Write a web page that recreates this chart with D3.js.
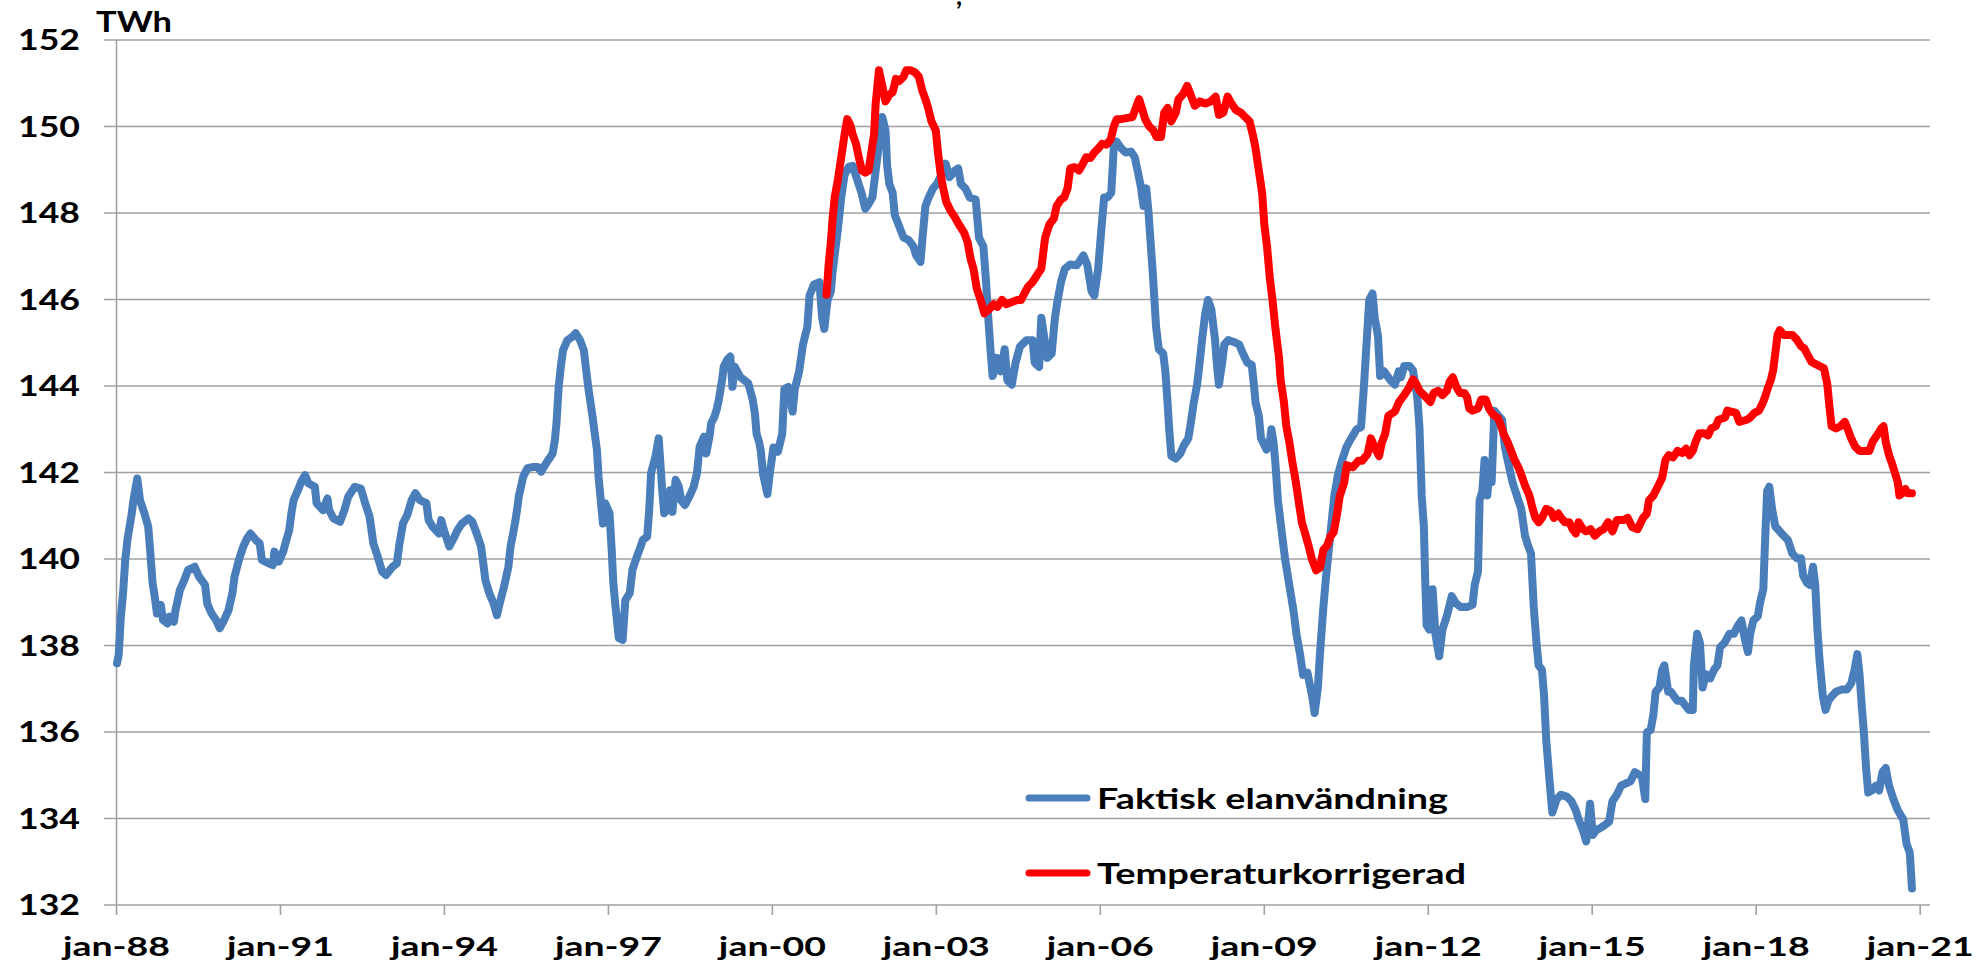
<!DOCTYPE html>
<html>
<head>
<meta charset="utf-8">
<script src="https://cdn.jsdelivr.net/npm/d3@7/dist/d3.min.js"></script>
<style>
	body { margin: 0; background: #fff; }
	svg { display: block; }
	text { font-family: Lato, "Open Sans", sans-serif; font-weight: 700; fill: #000; }
</style>
</head>
<body>
<script>

var yearTicks = [1988, 1991, 1994, 1997, 2000, 2003, 2006, 2009, 2012, 2015, 2018, 2021];
var tickLabels = ["jan-88", "jan-91", "jan-94", "jan-97", "jan-00", "jan-03", "jan-06", "jan-09", "jan-12", "jan-15", "jan-18", "jan-21"];
var valueTicks = [132, 134, 136, 138, 140, 142, 144, 146, 148, 150, 152];
var unitLabel = "TWh";
var seriesNames = ["Faktisk elanvändning", "Temperaturkorrigerad"];

// faktisk elanvändning, rullande 12 mån
var blueYears = [
	1988.01, 1988.04, 1988.08, 1988.12, 1988.16, 1988.20, 1988.24, 1988.28, 1988.31, 1988.38, 1988.43, 1988.51, 1988.58, 1988.62, 1988.66, 1988.70, 1988.74, 1988.81, 1988.85, 1988.93, 1988.97,
	1989.05, 1989.08, 1989.16, 1989.24, 1989.31, 1989.43, 1989.51, 1989.62, 1989.66, 1989.74, 1989.82, 1989.89, 1989.97,
	1990.05, 1990.12, 1990.16, 1990.24, 1990.32, 1990.39, 1990.45, 1990.55, 1990.62, 1990.66, 1990.78, 1990.86, 1990.89, 1990.97,
	1991.05, 1991.09, 1991.16, 1991.20, 1991.24, 1991.32, 1991.38, 1991.45, 1991.51, 1991.63, 1991.66, 1991.78, 1991.86, 1991.89, 1991.97,
	1992.09, 1992.17, 1992.24, 1992.36, 1992.47, 1992.55, 1992.63, 1992.70, 1992.78, 1992.86, 1992.93,
	1993.05, 1993.13, 1993.17, 1993.24, 1993.32, 1993.40, 1993.47, 1993.55, 1993.67, 1993.71, 1993.78, 1993.90, 1993.94,
	1994.01, 1994.09, 1994.17, 1994.24, 1994.32, 1994.44, 1994.51, 1994.59, 1994.67, 1994.71, 1994.75, 1994.82, 1994.90, 1994.96,
	1995.01, 1995.09, 1995.17, 1995.21, 1995.28, 1995.32, 1995.36, 1995.44, 1995.52, 1995.63, 1995.71, 1995.77, 1995.82, 1995.90, 1995.98,
	1996.02, 1996.05, 1996.09, 1996.13, 1996.17, 1996.25, 1996.34, 1996.40, 1996.48, 1996.55, 1996.63, 1996.71, 1996.79, 1996.82, 1996.86, 1996.90, 1996.94,
	1997.02, 1997.06, 1997.09, 1997.13, 1997.19, 1997.26, 1997.31, 1997.39, 1997.44, 1997.52, 1997.59, 1997.63, 1997.71, 1997.75, 1997.78, 1997.86, 1997.92, 1997.98,
	1998.02, 1998.10, 1998.13, 1998.17, 1998.23, 1998.29, 1998.33, 1998.40, 1998.48, 1998.56, 1998.62, 1998.67, 1998.75, 1998.79, 1998.85, 1998.88, 1998.94, 1998.98,
	1999.02, 1999.08, 1999.11, 1999.17, 1999.23, 1999.27, 1999.31, 1999.41, 1999.56, 1999.64, 1999.68, 1999.71, 1999.76, 1999.79, 1999.83, 1999.91, 1999.95,
	2000.02, 2000.10, 2000.18, 2000.22, 2000.29, 2000.37, 2000.41, 2000.49, 2000.56, 2000.64, 2000.68, 2000.76, 2000.86, 2000.91, 2000.95,
	2001.01, 2001.07, 2001.10, 2001.14, 2001.20, 2001.26, 2001.32, 2001.40, 2001.47, 2001.55, 2001.63, 2001.70, 2001.76, 2001.83, 2001.89, 2001.95,
	2002.01, 2002.07, 2002.10, 2002.14, 2002.20, 2002.24, 2002.32, 2002.40, 2002.49, 2002.58, 2002.63, 2002.71, 2002.74, 2002.80, 2002.86, 2002.94,
	2003.01, 2003.09, 2003.17, 2003.24, 2003.34, 2003.40, 2003.45, 2003.53, 2003.61, 2003.72, 2003.78, 2003.86, 2003.91, 2003.95, 2003.99,
	2004.03, 2004.11, 2004.18, 2004.25, 2004.30, 2004.38, 2004.45, 2004.53, 2004.65, 2004.76, 2004.80, 2004.88, 2004.92, 2004.97,
	2005.03, 2005.11, 2005.17, 2005.22, 2005.28, 2005.35, 2005.45, 2005.57, 2005.69, 2005.76, 2005.84, 2005.89, 2005.96,
	2006.02, 2006.07, 2006.13, 2006.20, 2006.25, 2006.30, 2006.38, 2006.46, 2006.56, 2006.63, 2006.69, 2006.74, 2006.79, 2006.84, 2006.88, 2006.92, 2006.96, 2006.99,
	2007.02, 2007.07, 2007.15, 2007.19, 2007.23, 2007.26, 2007.30, 2007.38, 2007.46, 2007.53, 2007.61, 2007.65, 2007.71, 2007.77, 2007.80, 2007.87, 2007.92, 2007.97,
	2008.03, 2008.10, 2008.13, 2008.17, 2008.23, 2008.27, 2008.34, 2008.46, 2008.54, 2008.61, 2008.69, 2008.77, 2008.81, 2008.84, 2008.90, 2008.94,
	2009.04, 2009.10, 2009.13, 2009.17, 2009.20, 2009.25, 2009.31, 2009.38, 2009.46, 2009.54, 2009.59, 2009.65, 2009.71, 2009.79, 2009.88, 2009.92, 2009.98,
	2010.02, 2010.08, 2010.13, 2010.18, 2010.23, 2010.28, 2010.35, 2010.42, 2010.50, 2010.59, 2010.69, 2010.77, 2010.82, 2010.89, 2010.92, 2010.98,
	2011.02, 2011.08, 2011.12, 2011.19, 2011.31, 2011.39, 2011.46, 2011.50, 2011.56, 2011.66, 2011.72, 2011.76, 2011.80, 2011.84, 2011.88, 2011.92, 2011.94, 2011.97,
	2012.02, 2012.08, 2012.13, 2012.20, 2012.26, 2012.34, 2012.43, 2012.50, 2012.59, 2012.71, 2012.81, 2012.85, 2012.91, 2012.94, 2012.99,
	2013.03, 2013.08, 2013.13, 2013.16, 2013.21, 2013.27, 2013.35, 2013.40, 2013.47, 2013.54, 2013.62, 2013.70, 2013.77, 2013.82, 2013.88, 2013.93, 2013.98,
	2014.02, 2014.08, 2014.12, 2014.16, 2014.22, 2014.27, 2014.35, 2014.43, 2014.54, 2014.62, 2014.70, 2014.75, 2014.83, 2014.89, 2014.96,
	2015.01, 2015.07, 2015.15, 2015.21, 2015.31, 2015.37, 2015.45, 2015.53, 2015.61, 2015.70, 2015.78, 2015.85, 2015.91, 2015.97,
	2016.00, 2016.07, 2016.12, 2016.16, 2016.23, 2016.28, 2016.32, 2016.39, 2016.44, 2016.50, 2016.56, 2016.64, 2016.70, 2016.77, 2016.84, 2016.86, 2016.92, 2016.97,
	2017.02, 2017.08, 2017.16, 2017.23, 2017.29, 2017.34, 2017.42, 2017.51, 2017.59, 2017.67, 2017.73, 2017.79, 2017.85, 2017.89, 2017.95,
	2018.03, 2018.07, 2018.13, 2018.16, 2018.20, 2018.24, 2018.29, 2018.35, 2018.43, 2018.50, 2018.58, 2018.66, 2018.74, 2018.82, 2018.86, 2018.93, 2018.98,
	2019.04, 2019.08, 2019.12, 2019.16, 2019.22, 2019.27, 2019.32, 2019.38, 2019.46, 2019.56, 2019.66, 2019.74, 2019.80, 2019.85, 2019.89, 2019.93, 2019.97,
	2020.01, 2020.05, 2020.12, 2020.19, 2020.25, 2020.31, 2020.37, 2020.43, 2020.51, 2020.59, 2020.69, 2020.75, 2020.81, 2020.85
];
var blueValues = [
	137.59, 137.78, 138.67, 139.21, 139.98, 140.44, 140.75, 141.06, 141.36, 141.86, 141.36, 141.06, 140.75, 140.13, 139.44, 139.13, 138.74, 138.94, 138.59, 138.51, 138.67,
	138.55, 138.82, 139.28, 139.51, 139.75, 139.82, 139.59, 139.40, 138.97, 138.74, 138.59, 138.40, 138.59,
	138.82, 139.21, 139.59, 139.98, 140.29, 140.48, 140.59, 140.44, 140.36, 139.98, 139.90, 139.86, 140.17, 139.94,
	140.17, 140.36, 140.67, 141.06, 141.36, 141.59, 141.79, 141.94, 141.75, 141.67, 141.29, 141.13, 141.40, 141.13, 140.94,
	140.86, 141.13, 141.44, 141.67, 141.63, 141.29, 140.98, 140.36, 140.05, 139.71, 139.63,
	139.82, 139.90, 140.29, 140.82, 141.02, 141.36, 141.52, 141.36, 141.29, 140.90, 140.75, 140.59, 140.90,
	140.59, 140.29, 140.48, 140.67, 140.82, 140.94, 140.86, 140.59, 140.29, 139.90, 139.51, 139.21, 138.97, 138.70,
	138.97, 139.36, 139.82, 140.29, 140.75, 141.06, 141.44, 141.90, 142.10, 142.13, 142.13, 142.02, 142.13, 142.29, 142.44,
	142.75, 143.14, 143.98, 144.45, 144.83, 145.06, 145.14, 145.22, 145.06, 144.83, 143.98, 143.29, 142.52, 141.90, 141.36, 140.82, 141.29,
	141.06, 140.21, 139.44, 138.90, 138.17, 138.13, 139.05, 139.21, 139.75, 140.05, 140.29, 140.44, 140.52, 141.21, 141.98, 142.37, 142.79, 141.67,
	141.06, 141.21, 141.59, 141.09, 141.83, 141.67, 141.36, 141.25, 141.44, 141.67, 141.98, 142.60, 142.83, 142.44, 142.83, 143.14, 143.29, 143.45,
	143.68, 144.14, 144.45, 144.60, 144.68, 143.98, 144.45, 144.21, 144.06, 143.68, 143.37, 142.90, 142.69, 142.48, 141.96, 141.50, 141.96,
	142.58, 142.48, 142.89, 143.93, 143.98, 143.41, 143.93, 144.34, 144.96, 145.37, 146.09, 146.35, 146.40, 145.58, 145.32,
	145.99, 146.19, 146.61, 147.02, 147.64, 148.36, 148.88, 149.07, 149.09, 148.78, 148.47, 148.10, 148.21, 148.36, 148.98, 149.60,
	150.22, 149.91, 149.09, 148.67, 148.47, 147.95, 147.69, 147.43, 147.38, 147.23, 147.02, 146.87, 147.33, 148.16, 148.36, 148.57,
	148.67, 148.88, 149.14, 148.83, 148.98, 149.03, 148.67, 148.57, 148.36, 148.31, 147.43, 147.23, 146.40, 145.58, 144.85,
	144.23, 144.65, 144.34, 144.85, 144.13, 144.03, 144.54, 144.91, 145.06, 145.06, 144.54, 144.44, 145.58, 145.16,
	144.65, 144.75, 145.58, 145.99, 146.40, 146.71, 146.81, 146.79, 147.02, 146.81, 146.19, 146.09, 146.71,
	147.64, 148.36, 148.36, 148.47, 149.60, 149.65, 149.50, 149.40, 149.42, 149.29, 148.93, 148.62, 148.16, 148.57, 148.05, 147.33, 146.61, 145.99,
	145.37, 144.85, 144.75, 144.34, 143.62, 143.00, 142.38, 142.32, 142.43, 142.63, 142.79, 143.10, 143.62, 144.03, 144.34, 145.16, 145.68, 145.99,
	145.78, 145.06, 144.54, 144.03, 144.54, 144.96, 145.06, 145.01, 144.96, 144.75, 144.54, 144.49, 144.03, 143.62, 143.31, 142.79,
	142.53, 142.69, 143.00, 142.69, 142.27, 141.34, 140.72, 140.00, 139.38, 138.76, 138.25, 137.83, 137.32, 137.37, 136.80, 136.44, 137.01,
	137.83, 138.87, 139.59, 140.21, 140.83, 141.45, 141.96, 142.27, 142.58, 142.79, 143.00, 143.05, 143.93, 145.37, 145.99, 146.14,
	145.58, 145.16, 144.23, 144.34, 144.13, 144.03, 144.34, 144.20, 144.46, 144.46, 144.36, 144.05, 143.74, 143.02, 141.47, 140.75, 139.71, 138.47,
	138.37, 139.30, 138.27, 137.75, 138.37, 138.68, 139.14, 138.99, 138.89, 138.89, 138.94, 139.40, 139.71, 141.36, 141.57,
	142.29, 141.47, 142.19, 141.78, 143.43, 143.33, 143.22, 142.60, 142.19, 141.78, 141.47, 141.16, 140.54, 140.33, 140.13, 138.89, 138.06,
	137.54, 137.44, 136.82, 135.79, 134.86, 134.14, 134.45, 134.55, 134.50, 134.40, 134.19, 133.98, 133.73, 133.47, 134.34,
	133.62, 133.73, 133.78, 133.83, 133.93, 134.40, 134.55, 134.76, 134.81, 134.86, 135.07, 135.02, 134.97, 134.45,
	135.99, 136.05, 136.41, 136.93, 137.03, 137.44, 137.54, 136.93, 136.93, 136.82, 136.72, 136.72, 136.62, 136.51, 136.51, 137.54, 138.27, 138.06,
	137.03, 137.34, 137.24, 137.44, 137.54, 137.96, 138.06, 138.27, 138.27, 138.47, 138.58, 138.16, 137.85, 138.27, 138.58,
	138.68, 138.99, 139.30, 140.33, 141.57, 141.67, 141.16, 140.75, 140.64, 140.54, 140.44, 140.13, 140.02, 140.02, 139.61, 139.45, 139.40,
	139.82, 139.40, 138.37, 137.65, 136.82, 136.51, 136.72, 136.82, 136.93, 136.98, 136.98, 137.13, 137.44, 137.80, 137.34, 136.62, 135.99,
	135.17, 134.60, 134.65, 134.76, 134.65, 135.07, 135.17, 134.76, 134.45, 134.19, 133.98, 133.42, 133.21, 132.38
];

// temperaturkorrigerad, rullande 12 mån
var redYears = [
	2000.99, 2001.03, 2001.07, 2001.10, 2001.14, 2001.20, 2001.26, 2001.32, 2001.37, 2001.43, 2001.47, 2001.53, 2001.58, 2001.64, 2001.70, 2001.76, 2001.81, 2001.86, 2001.89, 2001.95,
	2002.01, 2002.07, 2002.14, 2002.20, 2002.26, 2002.32, 2002.40, 2002.45, 2002.53, 2002.61, 2002.68, 2002.74, 2002.80, 2002.85, 2002.91, 2002.99,
	2003.03, 2003.07, 2003.11, 2003.18, 2003.26, 2003.34, 2003.41, 2003.51, 2003.57, 2003.63, 2003.68, 2003.74, 2003.81, 2003.88, 2003.97,
	2004.05, 2004.12, 2004.20, 2004.28, 2004.38, 2004.48, 2004.55, 2004.61, 2004.68, 2004.76, 2004.84, 2004.92, 2004.95, 2004.99,
	2005.07, 2005.15, 2005.20, 2005.28, 2005.34, 2005.40, 2005.45, 2005.53, 2005.61, 2005.66, 2005.74, 2005.82, 2005.89, 2005.97,
	2006.03, 2006.11, 2006.19, 2006.25, 2006.30, 2006.38, 2006.50, 2006.59, 2006.65, 2006.71, 2006.76, 2006.82, 2006.89, 2006.97,
	2007.03, 2007.11, 2007.17, 2007.23, 2007.30, 2007.38, 2007.43, 2007.51, 2007.59, 2007.65, 2007.73, 2007.82, 2007.92,
	2008.02, 2008.11, 2008.17, 2008.25, 2008.33, 2008.40, 2008.48, 2008.57, 2008.65, 2008.73, 2008.79, 2008.84, 2008.90, 2008.96,
	2009.00, 2009.05, 2009.10, 2009.15, 2009.20, 2009.27, 2009.30, 2009.36, 2009.40, 2009.46, 2009.51, 2009.58, 2009.64, 2009.69, 2009.74, 2009.81, 2009.87, 2009.95,
	2010.02, 2010.08, 2010.15, 2010.21, 2010.27, 2010.33, 2010.38, 2010.46, 2010.51, 2010.62, 2010.72, 2010.79, 2010.89, 2010.95,
	2011.02, 2011.10, 2011.15, 2011.21, 2011.27, 2011.39, 2011.46, 2011.56, 2011.64, 2011.72, 2011.78, 2011.84, 2011.92,
	2012.04, 2012.10, 2012.18, 2012.26, 2012.34, 2012.39, 2012.45, 2012.51, 2012.58, 2012.66, 2012.71, 2012.75, 2012.81, 2012.91, 2012.97,
	2013.05, 2013.11, 2013.19, 2013.27, 2013.32, 2013.39, 2013.45, 2013.53, 2013.58, 2013.66, 2013.72, 2013.78, 2013.85, 2013.90, 2013.96,
	2014.02, 2014.08, 2014.16, 2014.24, 2014.30, 2014.38, 2014.43, 2014.50, 2014.58, 2014.64, 2014.70, 2014.75, 2014.83, 2014.89, 2014.97,
	2015.05, 2015.13, 2015.21, 2015.29, 2015.37, 2015.45, 2015.57, 2015.65, 2015.73, 2015.83, 2015.93,
	2016.00, 2016.04, 2016.12, 2016.20, 2016.28, 2016.34, 2016.40, 2016.48, 2016.56, 2016.64, 2016.72, 2016.78, 2016.84, 2016.89, 2016.96,
	2017.04, 2017.12, 2017.18, 2017.26, 2017.31, 2017.43, 2017.47, 2017.63, 2017.69, 2017.83, 2017.89, 2017.97,
	2018.05, 2018.11, 2018.16, 2018.21, 2018.27, 2018.31, 2018.35, 2018.39, 2018.43, 2018.51, 2018.66, 2018.74, 2018.82, 2018.88, 2018.94,
	2019.01, 2019.08, 2019.16, 2019.24, 2019.30, 2019.34, 2019.38, 2019.46, 2019.54, 2019.62, 2019.67, 2019.73, 2019.81, 2019.89,
	2020.07, 2020.13, 2020.21, 2020.29, 2020.33, 2020.37, 2020.43, 2020.49, 2020.54, 2020.59, 2020.62, 2020.67, 2020.73, 2020.77, 2020.85
];
var redValues = [
	146.11, 146.81, 147.33, 147.85, 148.36, 148.78, 149.29, 149.81, 150.17, 150.02, 149.81, 149.60, 149.29, 148.98, 148.93, 148.98, 149.40, 149.81, 150.53, 151.30,
	150.94, 150.58, 150.74, 150.79, 151.10, 151.05, 151.15, 151.30, 151.30, 151.25, 151.15, 150.84, 150.63, 150.43, 150.12, 149.91,
	149.40, 148.98, 148.67, 148.26, 148.05, 147.90, 147.74, 147.54, 147.33, 146.92, 146.71, 146.25, 145.99, 145.68, 145.78,
	145.89, 145.83, 145.99, 145.89, 145.94, 145.99, 145.99, 146.14, 146.30, 146.40, 146.56, 146.71, 147.02, 147.43,
	147.74, 147.87, 148.16, 148.31, 148.36, 148.57, 149.03, 149.06, 148.98, 149.09, 149.29, 149.27, 149.40, 149.50,
	149.60, 149.58, 149.70, 150.01, 150.17, 150.17, 150.20, 150.22, 150.43, 150.63, 150.43, 150.17, 150.01, 149.91,
	149.76, 149.76, 150.32, 150.43, 150.12, 150.32, 150.63, 150.74, 150.94, 150.74, 150.48, 150.58, 150.53,
	150.58, 150.69, 150.27, 150.32, 150.69, 150.53, 150.38, 150.32, 150.22, 150.12, 149.81, 149.50, 148.98, 148.47,
	147.74, 147.23, 146.51, 145.99, 145.37, 144.65, 144.13, 143.62, 143.10, 142.69, 142.27, 141.76, 141.24, 140.83, 140.62, 140.31, 140.00, 139.74,
	139.80, 140.21, 140.31, 140.52, 140.62, 141.03, 141.45, 141.76, 142.17, 142.12, 142.27, 142.27, 142.43, 142.79,
	142.58, 142.38, 142.69, 142.89, 143.31, 143.41, 143.62, 143.79, 143.94, 144.15, 144.05, 143.89, 143.79,
	143.63, 143.84, 143.89, 143.79, 143.89, 144.10, 144.20, 143.99, 143.84, 143.84, 143.74, 143.48, 143.43, 143.48, 143.69,
	143.69, 143.48, 143.33, 143.27, 143.12, 142.86, 142.71, 142.45, 142.29, 142.09, 141.88, 141.67, 141.47, 141.21, 140.95,
	140.85, 140.95, 141.16, 141.11, 140.95, 141.05, 140.95, 140.85, 140.85, 140.69, 140.59, 140.85, 140.69, 140.64, 140.69,
	140.54, 140.64, 140.69, 140.85, 140.64, 140.90, 140.90, 140.95, 140.74, 140.69, 140.95,
	141.05, 141.36, 141.47, 141.67, 141.88, 142.29, 142.40, 142.35, 142.50, 142.45, 142.55, 142.40, 142.50, 142.71, 142.91,
	142.91, 142.86, 143.02, 143.07, 143.22, 143.27, 143.43, 143.38, 143.17, 143.22, 143.27, 143.38,
	143.43, 143.58, 143.74, 143.94, 144.15, 144.36, 144.77, 145.18, 145.29, 145.18, 145.18, 145.08, 144.92, 144.87, 144.72,
	144.56, 144.51, 144.46, 144.41, 144.05, 143.53, 143.07, 143.02, 143.07, 143.17, 143.02, 142.81, 142.60, 142.50,
	142.50, 142.71, 142.86, 143.02, 143.07, 142.71, 142.40, 142.19, 141.98, 141.78, 141.47, 141.52, 141.62, 141.52, 141.52
];

var width = 1980, height = 965;
var gridColor = '#a0a0a0';
var colors = ['#4a7ebb', '#ff0000'];

var svg = d3.select('body').append('svg').attr('width', width).attr('height', height);

var x = d3.scaleLinear().domain([1988, 2021.18]).range([116.5, 1930]);
var y = d3.scaleLinear().domain([132, 152]).range([905, 40]);

var stretchTo = function(sel, factor) {
	sel.each(function() {
		var w = this.getComputedTextLength();
		d3.select(this).attr('textLength', w * factor).attr('lengthAdjust', 'spacingAndGlyphs');
	});
};

// horisontella stödlinjer
svg.append('g').selectAll('line').data(valueTicks).enter().append('line')
	.attr('x1', 104).attr('x2', x.range()[1])
	.attr('y1', function(d) { return y(d); })
	.attr('y2', function(d) { return y(d); })
	.attr('stroke', gridColor).attr('stroke-width', 1.6);

svg.append('line')
	.attr('x1', x(1988)).attr('x2', x(1988))
	.attr('y1', y(152)).attr('y2', y(132))
	.attr('stroke', gridColor).attr('stroke-width', 1.6);

svg.append('g').selectAll('line').data(yearTicks).enter().append('line')
	.attr('x1', function(d) { return x(d); }).attr('x2', function(d) { return x(d); })
	.attr('y1', y(132)).attr('y2', y(132) + 10)
	.attr('stroke', gridColor).attr('stroke-width', 1.6);

var yLabels = svg.append('g').selectAll('text').data(valueTicks).enter().append('text')
	.attr('x', 80).attr('y', function(d) { return y(d) + 10; })
	.attr('text-anchor', 'end').style('font-size', '28px')
	.text(function(d) { return d; });

var xLabels = svg.append('g').selectAll('text').data(yearTicks).enter().append('text')
	.attr('x', function(d) { return x(d); }).attr('y', 956)
	.attr('text-anchor', 'middle').style('font-size', '27px')
	.text(function(d, i) { return tickLabels[i]; });

var xFactor = 107 / xLabels.node().getComputedTextLength();
stretchTo(xLabels, xFactor);
var yFactor = 62 / yLabels.filter(function(d) { return d === 152; }).node().getComputedTextLength();
stretchTo(yLabels, yFactor);

var unit = svg.append('text').attr('x', 96).attr('y', 32).style('font-size', '28px').text(unitLabel);
unit.attr('textLength', 76).attr('lengthAdjust', 'spacingAndGlyphs');

// rest av rubriken som sticker in överst
svg.append('text').attr('x', 956).attr('y', 5).style('font-size', '26px').text(',');

var line = d3.line()
	.x(function(d) { return x(d[0]); })
	.y(function(d) { return y(d[1]); });

var series = [d3.zip(blueYears, blueValues), d3.zip(redYears, redValues)];

svg.append('g').selectAll('path').data(series).enter().append('path')
	.attr('d', line)
	.attr('fill', 'none')
	.attr('stroke', function(d, i) { return colors[i]; })
	.attr('stroke-width', 8)
	.attr('stroke-linejoin', 'round')
	.attr('stroke-linecap', 'round');

var legend = svg.append('g').selectAll('g').data(seriesNames).enter().append('g')
	.attr('transform', function(d, i) { return 'translate(0,' + (798 + i * 75) + ')'; });

legend.append('line')
	.attr('x1', 1029).attr('x2', 1087)
	.attr('stroke', function(d, i) { return colors[i]; })
	.attr('stroke-width', 7).attr('stroke-linecap', 'round');

legend.append('text')
	.attr('x', 1097).attr('y', 11)
	.style('font-size', '28px')
	.attr('textLength', function(d, i) { return [351, 369][i]; })
	.attr('lengthAdjust', 'spacingAndGlyphs')
	.text(function(d) { return d; });

</script>
</body>
</html>
